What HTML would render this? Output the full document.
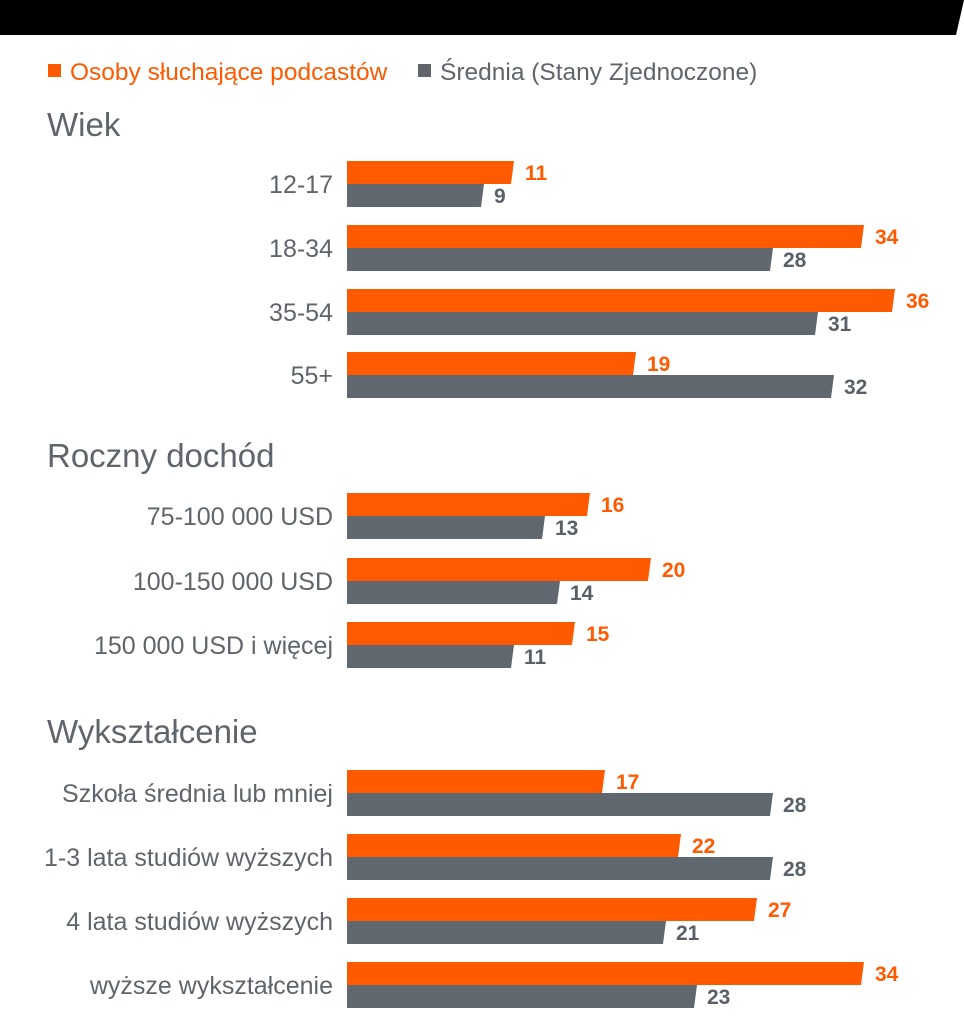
<!DOCTYPE html>
<html><head><meta charset="utf-8"><style>
html,body{margin:0;padding:0;background:#fff;}
svg{display:block;}
text{font-family:"Liberation Sans",sans-serif;}
.cat{font-size:25px;fill:#5f656b;text-anchor:end;}
.h{font-size:33px;fill:#5f656b;}
.vo{font-size:21px;font-weight:bold;fill:#ff5a00;}
.vg{font-size:21px;font-weight:bold;fill:#5a6067;}
</style></head><body>
<svg width="964" height="1024" viewBox="0 0 964 1024" xmlns="http://www.w3.org/2000/svg">
<polygon points="0,0 964,0 956,35 0,35" fill="#000"/>
<rect x="48" y="64" width="13" height="13" fill="#ff5a00"/>
<text x="70" y="80" font-size="24.5" fill="#ff5a00">Osoby słuchające podcastów</text>
<rect x="418" y="64" width="13" height="13" fill="#5f656b"/>
<text x="440" y="80" font-size="24.5" fill="#5f656b">Średnia (Stany Zjednoczone)</text>
<text class="h" x="47" y="136">Wiek</text>
<text class="h" x="47" y="467">Roczny dochód</text>
<text class="h" x="47" y="743">Wykształcenie</text>
<g>
<polygon points="347,161 514,161 511,184 347,184" fill="#ff5a00"/><polygon points="347,184 484,184 481,207 347,207" fill="#61676e"/>
<text class="cat" x="333" y="193">12-17</text><text class="vo" x="525" y="180">11</text><text class="vg" x="494" y="203">9</text>

<polygon points="347,225 864,225 861,248 347,248" fill="#ff5a00"/><polygon points="347,248 773,248 770,271 347,271" fill="#61676e"/>
<text class="cat" x="333" y="257">18-34</text><text class="vo" x="875" y="244">34</text><text class="vg" x="783" y="267">28</text>

<polygon points="347,289 895,289 892,312 347,312" fill="#ff5a00"/><polygon points="347,312 818,312 815,335 347,335" fill="#61676e"/>
<text class="cat" x="333" y="321">35-54</text><text class="vo" x="906" y="308">36</text><text class="vg" x="828" y="331">31</text>

<polygon points="347,352 636,352 633,375 347,375" fill="#ff5a00"/><polygon points="347,375 834,375 831,398 347,398" fill="#61676e"/>
<text class="cat" x="333" y="384">55+</text><text class="vo" x="647" y="371">19</text><text class="vg" x="844" y="394">32</text>

<polygon points="347,493 590,493 587,516 347,516" fill="#ff5a00"/><polygon points="347,516 545,516 542,539 347,539" fill="#61676e"/>
<text class="cat" x="333" y="525">75-100 000 USD</text><text class="vo" x="601" y="512">16</text><text class="vg" x="555" y="535">13</text>

<polygon points="347,558 651,558 648,581 347,581" fill="#ff5a00"/><polygon points="347,581 560,581 557,604 347,604" fill="#61676e"/>
<text class="cat" x="333" y="590">100-150 000 USD</text><text class="vo" x="662" y="577">20</text><text class="vg" x="570" y="600">14</text>

<polygon points="347,622 575,622 572,645 347,645" fill="#ff5a00"/><polygon points="347,645 514,645 511,668 347,668" fill="#61676e"/>
<text class="cat" x="333" y="654">150 000 USD i więcej</text><text class="vo" x="586" y="641">15</text><text class="vg" x="524" y="664">11</text>

<polygon points="347,770 605,770 602,793 347,793" fill="#ff5a00"/><polygon points="347,793 773,793 770,816 347,816" fill="#61676e"/>
<text class="cat" x="333" y="802">Szkoła średnia lub mniej</text><text class="vo" x="616" y="789">17</text><text class="vg" x="783" y="812">28</text>

<polygon points="347,834 681,834 678,857 347,857" fill="#ff5a00"/><polygon points="347,857 773,857 770,880 347,880" fill="#61676e"/>
<text class="cat" x="333" y="866">1-3 lata studiów wyższych</text><text class="vo" x="692" y="853">22</text><text class="vg" x="783" y="876">28</text>

<polygon points="347,898 757,898 754,921 347,921" fill="#ff5a00"/><polygon points="347,921 666,921 663,944 347,944" fill="#61676e"/>
<text class="cat" x="333" y="930">4 lata studiów wyższych</text><text class="vo" x="768" y="917">27</text><text class="vg" x="676" y="940">21</text>

<polygon points="347,962 864,962 861,985 347,985" fill="#ff5a00"/><polygon points="347,985 697,985 694,1008 347,1008" fill="#61676e"/>
<text class="cat" x="333" y="994">wyższe wykształcenie</text><text class="vo" x="875" y="981">34</text><text class="vg" x="707" y="1004">23</text>
</g>
</svg>
</body></html>
